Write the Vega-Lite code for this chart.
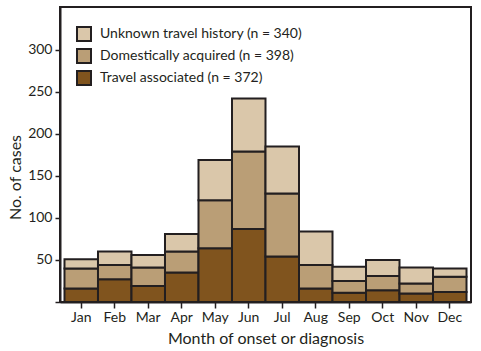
{
  "$schema": "https://vega.github.io/schema/vega-lite/v6.json",
  "width": 411,
  "height": 295,
  "autosize": {"type": "none"},
  "padding": {"left": 60, "top": 7, "right": 10, "bottom": 49},
  "background": "white",
  "config": {
    "font": "Lato",
    "view": {"stroke": "#231f20", "strokeWidth": 2},
    "axis": {"labelColor": "#231f20", "titleColor": "#231f20", "domainColor": "#231f20", "tickColor": "#231f20", "grid": false, "titleFontWeight": "normal"}
  },
  "data": {
    "values": [
      {"month": "Jan", "type": "Travel associated (n = 372)", "cases": 16},
      {"month": "Jan", "type": "Domestically acquired (n = 398)", "cases": 24},
      {"month": "Jan", "type": "Unknown travel history (n = 340)", "cases": 11},
      {"month": "Feb", "type": "Travel associated (n = 372)", "cases": 27},
      {"month": "Feb", "type": "Domestically acquired (n = 398)", "cases": 17},
      {"month": "Feb", "type": "Unknown travel history (n = 340)", "cases": 16},
      {"month": "Mar", "type": "Travel associated (n = 372)", "cases": 19},
      {"month": "Mar", "type": "Domestically acquired (n = 398)", "cases": 22},
      {"month": "Mar", "type": "Unknown travel history (n = 340)", "cases": 15},
      {"month": "Apr", "type": "Travel associated (n = 372)", "cases": 35},
      {"month": "Apr", "type": "Domestically acquired (n = 398)", "cases": 25},
      {"month": "Apr", "type": "Unknown travel history (n = 340)", "cases": 21},
      {"month": "May", "type": "Travel associated (n = 372)", "cases": 64},
      {"month": "May", "type": "Domestically acquired (n = 398)", "cases": 57},
      {"month": "May", "type": "Unknown travel history (n = 340)", "cases": 48},
      {"month": "Jun", "type": "Travel associated (n = 372)", "cases": 87},
      {"month": "Jun", "type": "Domestically acquired (n = 398)", "cases": 92},
      {"month": "Jun", "type": "Unknown travel history (n = 340)", "cases": 63},
      {"month": "Jul", "type": "Travel associated (n = 372)", "cases": 54},
      {"month": "Jul", "type": "Domestically acquired (n = 398)", "cases": 75},
      {"month": "Jul", "type": "Unknown travel history (n = 340)", "cases": 56},
      {"month": "Aug", "type": "Travel associated (n = 372)", "cases": 16},
      {"month": "Aug", "type": "Domestically acquired (n = 398)", "cases": 28},
      {"month": "Aug", "type": "Unknown travel history (n = 340)", "cases": 40},
      {"month": "Sep", "type": "Travel associated (n = 372)", "cases": 11},
      {"month": "Sep", "type": "Domestically acquired (n = 398)", "cases": 14},
      {"month": "Sep", "type": "Unknown travel history (n = 340)", "cases": 17},
      {"month": "Oct", "type": "Travel associated (n = 372)", "cases": 14},
      {"month": "Oct", "type": "Domestically acquired (n = 398)", "cases": 17},
      {"month": "Oct", "type": "Unknown travel history (n = 340)", "cases": 19},
      {"month": "Nov", "type": "Travel associated (n = 372)", "cases": 10},
      {"month": "Nov", "type": "Domestically acquired (n = 398)", "cases": 12},
      {"month": "Nov", "type": "Unknown travel history (n = 340)", "cases": 19},
      {"month": "Dec", "type": "Travel associated (n = 372)", "cases": 12},
      {"month": "Dec", "type": "Domestically acquired (n = 398)", "cases": 18},
      {"month": "Dec", "type": "Unknown travel history (n = 340)", "cases": 10}
    ]
  },
  "transform": [
    {"calculate": "indexof(['Travel associated (n = 372)', 'Domestically acquired (n = 398)', 'Unknown travel history (n = 340)'], datum.type)", "as": "stackOrder"}
  ],
  "mark": {"type": "bar", "stroke": "#231f20", "strokeWidth": 2},
  "encoding": {
    "x": {
      "field": "month",
      "type": "nominal",
      "sort": ["Jan", "Feb", "Mar", "Apr", "May", "Jun", "Jul", "Aug", "Sep", "Oct", "Nov", "Dec"],
      "scale": {"paddingInner": 0, "paddingOuter": 0.134},
      "axis": {
        "title": "Month of onset or diagnosis",
        "titleFontSize": 16,
        "titlePadding": 6,
        "labelFontSize": 14,
        "labelAngle": 0,
        "labelPadding": 2,
        "tickSize": 6,
        "tickWidth": 1.5,
        "domainWidth": 2
      }
    },
    "y": {
      "field": "cases",
      "type": "quantitative",
      "stack": "zero",
      "scale": {"domain": [0, 351], "nice": false},
      "axis": {
        "title": "No. of cases",
        "titleFontSize": 16,
        "titleAngle": -90,
        "titleX": -45,
        "titleY": 170,
        "titleAlign": "center",
        "titleBaseline": "middle",
        "values": [0, 50, 100, 150, 200, 250, 300],
        "labelExpr": "datum.value == 0 ? '' : datum.label",
        "labelFontSize": 14,
        "labelPadding": 3,
        "tickSize": 5,
        "tickWidth": 1.5,
        "domainWidth": 2
      }
    },
    "color": {
      "field": "type",
      "type": "nominal",
      "scale": {
        "domain": ["Unknown travel history (n = 340)", "Domestically acquired (n = 398)", "Travel associated (n = 372)"],
        "range": ["#dac7aa", "#ba9e76", "#80541e"]
      },
      "legend": {
        "title": null,
        "orient": "none",
        "legendX": 16,
        "legendY": 19,
        "padding": 0,
        "symbolType": "square",
        "symbolSize": 196,
        "symbolStrokeColor": "#231f20",
        "symbolStrokeWidth": 2,
        "symbolOpacity": 1,
        "labelFontSize": 14,
        "labelColor": "#231f20",
        "labelOffset": 8,
        "rowPadding": 0,
        "labelLimit": 400
      }
    },
    "order": {"field": "stackOrder", "type": "quantitative", "sort": "ascending"}
  }
}
